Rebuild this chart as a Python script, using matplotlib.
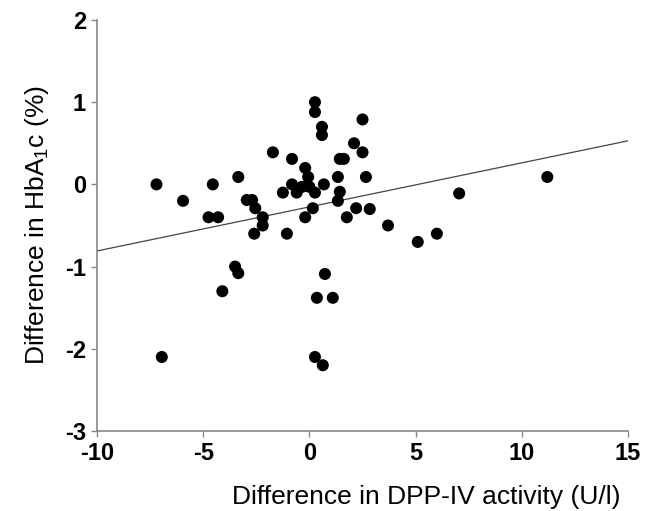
"""
Scatter: difference in DPP-IV activity vs difference in HbA1c
"""
import matplotlib
matplotlib.use('Agg')
import matplotlib.pyplot as plt
import numpy as np

plt.rcParams['font.family'] = ['Liberation Sans', 'DejaVu Sans']
plt.rcParams['mathtext.fontset'] = 'custom'
plt.rcParams['mathtext.rm'] = 'Liberation Sans'
plt.rcParams['mathtext.it'] = 'Liberation Sans:italic'
plt.rcParams['axes.unicode_minus'] = False

dpp_diff = [-7.2, -6.95, -5.95, -4.55, -4.75, -4.3, -4.1, -3.5, -3.35, -3.35,
            -2.95, -2.7, -2.55, -2.2, -2.2, -2.6, -1.72, -1.06, -1.25, -0.82,
            -0.82, -0.6, -0.35, -0.2, -0.06, 0.0, -0.2, 0.16, 0.26, 0.26,
            0.26, 0.59, 0.59, 0.68, 0.73, 0.35, 1.1, 0.26, 0.63, 1.34,
            1.43, 1.62, 1.43, 1.34, 1.76, 2.1, 2.5, 2.5, 2.66, 2.2,
            2.84, 3.7, 5.1, 6.0, 7.05, 11.2]
hba1c_diff = [0.0, -2.1, -0.2, 0.0, -0.4, -0.4, -1.3, -1.0, -1.08, 0.09,
              -0.19, -0.19, -0.29, -0.4, -0.5, -0.6, 0.39, -0.6, -0.1, 0.31,
              0.0, -0.1, -0.03, 0.2, 0.09, -0.03, -0.4, -0.29, -0.1, 1.0,
              0.88, 0.7, 0.6, 0.0, -1.09, -1.38, -1.38, -2.1, -2.2, 0.09,
              0.31, 0.31, -0.09, -0.2, -0.4, 0.5, 0.79, 0.39, 0.09, -0.29,
              -0.3, -0.5, -0.7, -0.6, -0.11, 0.09]

# regression line
fit_slope = 0.0536
fit_intercept = -0.274

x_ticks = [-10, -5, 0, 5, 10, 15]
y_ticks = [-3, -2, -1, 0, 1, 2]

fig = plt.figure(figsize=(6.49, 5.11), dpi=100)
ax = fig.add_axes([0.1495, 0.1566, 0.9677 - 0.1495, 0.9609 - 0.1566])

line_x = np.array([-10, 15])
ax.plot(line_x, fit_slope * line_x + fit_intercept, color='#444444', lw=0.9, zorder=2)
ax.scatter(dpp_diff, hba1c_diff, s=75, color='black', edgecolors='none', zorder=3)

ax.set_xlim(-10, 15)
ax.set_ylim(-3, 2)
ax.set_xticks(x_ticks)
ax.set_yticks(y_ticks)

for side in ('top', 'right'):
    ax.spines[side].set_visible(False)
for side in ('left', 'bottom'):
    ax.spines[side].set_color('#888888')
    ax.spines[side].set_linewidth(1.2)

ax.tick_params(direction='out', length=4, width=1, color='#888888',
               labelsize=17, pad=4)
for lab in ax.get_xticklabels() + ax.get_yticklabels():
    lab.set_fontweight('bold')

ax.set_xlabel('Difference in DPP-IV activity (U/l)', fontsize=19, labelpad=14,
              x=0.62)
ax.set_ylabel('Difference in HbA$_1$c (%)', fontsize=19, labelpad=10)

fig.savefig('out.png', dpi=100)
